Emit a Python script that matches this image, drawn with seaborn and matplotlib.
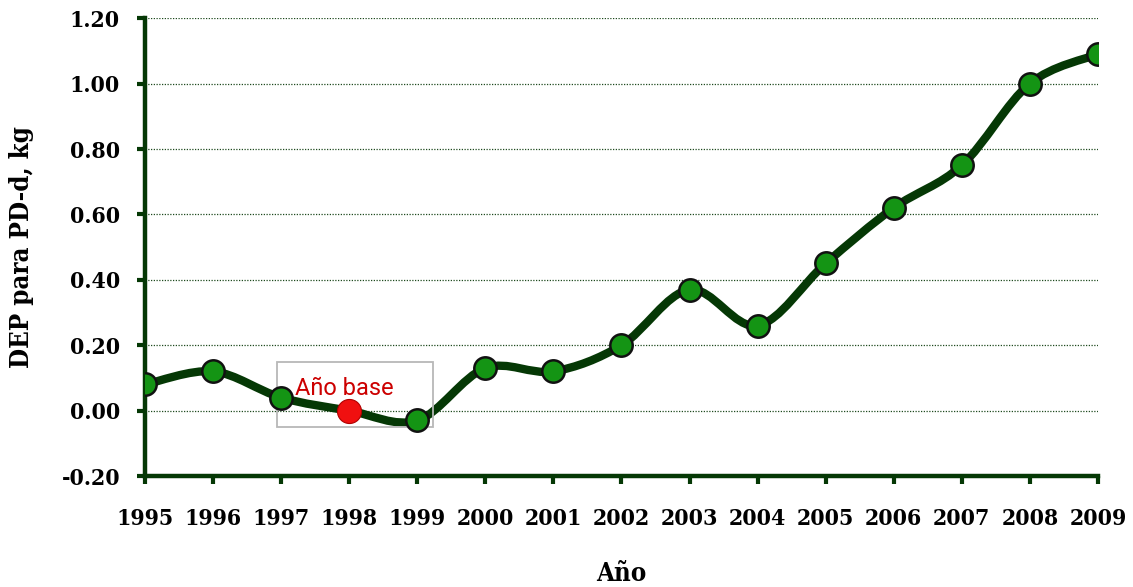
import numpy as np
import matplotlib
matplotlib.use("Agg")
import matplotlib.pyplot as plt
from matplotlib.path import Path
from matplotlib.patches import PathPatch, Rectangle
import seaborn as sns
import pandas as pd

# datos
anios = [1995, 1996, 1997, 1998, 1999, 2000, 2001, 2002, 2003, 2004, 2005, 2006, 2007, 2008, 2009]
dep = [0.08, 0.12, 0.04, 0.00, -0.03, 0.13, 0.12, 0.20, 0.37, 0.26, 0.45, 0.62, 0.75, 1.00, 1.09]
anio_base = 1998
y_ticks = [-0.20, 0.00, 0.20, 0.40, 0.60, 0.80, 1.00, 1.20]

df = pd.DataFrame({"Año": anios, "DEP": dep})
df["tipo"] = np.where(df["Año"] == anio_base, "base", "normal")

sns.set_theme(style="white")
plt.rcParams["font.family"] = ["DejaVu Serif"]
plt.rcParams["font.stretch"] = "condensed"
plt.rcParams["text.color"] = "black"
plt.rcParams["axes.labelcolor"] = "black"

verde_osc = "#053805"
fig = plt.figure(figsize=(11.33, 5.87), dpi=100)
ax = fig.add_axes([0.128, 0.189, 0.841, 0.780])

# linea suavizada (Bezier tipo Catmull-Rom, como Excel)
x = np.array(anios, dtype=float)
y = np.array(dep, dtype=float)
xp = np.concatenate([[x[0]], x, [x[-1]]])
yp = np.concatenate([[y[0]], y, [y[-1]]])
verts = [(x[0], y[0])]
codes = [Path.MOVETO]
for i in range(1, len(x)):
    p0 = np.array([xp[i - 1], yp[i - 1]])
    p1 = np.array([xp[i], yp[i]])
    p2 = np.array([xp[i + 1], yp[i + 1]])
    p3 = np.array([xp[i + 2], yp[i + 2]])
    c1 = p1 + (p2 - p0) / 6
    c2 = p2 - (p3 - p1) / 6
    verts += [tuple(c1), tuple(c2), tuple(p2)]
    codes += [Path.CURVE4] * 3
ax.add_patch(PathPatch(Path(verts, codes), facecolor="none", edgecolor=verde_osc,
                       lw=6, capstyle="round", zorder=2))

sns.scatterplot(data=df[df["tipo"] == "normal"], x="Año", y="DEP", ax=ax, s=260,
                color="#149414", edgecolor="#111111", linewidth=1.8, zorder=4, legend=False)
sns.scatterplot(data=df[df["tipo"] == "base"], x="Año", y="DEP", ax=ax, s=300,
                color="#f01010", edgecolor="#b00000", linewidth=0.8, zorder=4, legend=False)

# recuadro del año base
ax.add_patch(Rectangle((1996.94, -0.049), 2.29, 0.199, facecolor="none",
                       edgecolor="#b8b8b8", lw=1.3, zorder=3))
ax.text(1997.2, 0.068, "Año base", color="#cc0000", fontsize=17, fontstretch="normal",
        family=["Roboto", "DejaVu Sans"], va="center", ha="left", zorder=5)

ax.set_xlim(1995, 2009)
ax.set_ylim(-0.20, 1.20)
ax.set_xticks(anios)
ax.set_xticklabels([str(a) for a in anios])
ax.set_yticks(y_ticks)
ax.set_yticklabels([f"{v:.2f}" for v in y_ticks])
for v in y_ticks[1:]:
    ax.axhline(v, color="#1f4a1f", lw=0.9, ls=(0, (1, 1.2)), zorder=1)

for s in ["top", "right"]:
    ax.spines[s].set_visible(False)
for s in ["left", "bottom"]:
    ax.spines[s].set_color(verde_osc)
    ax.spines[s].set_linewidth(3.2)
    ax.spines[s].set_zorder(3)
ax.tick_params(axis="both", direction="out", length=6, width=3, color=verde_osc,
               labelsize=16.5, labelcolor="black", left=True, bottom=True)
ax.tick_params(axis="x", pad=17)
ax.tick_params(axis="y", pad=12)
for lab in ax.get_xticklabels() + ax.get_yticklabels():
    lab.set_fontweight("bold")
ax.set_xlabel("Año", fontsize=18.5, fontweight="bold", labelpad=22)
ax.set_ylabel("DEP para PD-d, kg", fontsize=18.5, fontweight="bold", labelpad=20)

fig.savefig("out.png", dpi=100)
